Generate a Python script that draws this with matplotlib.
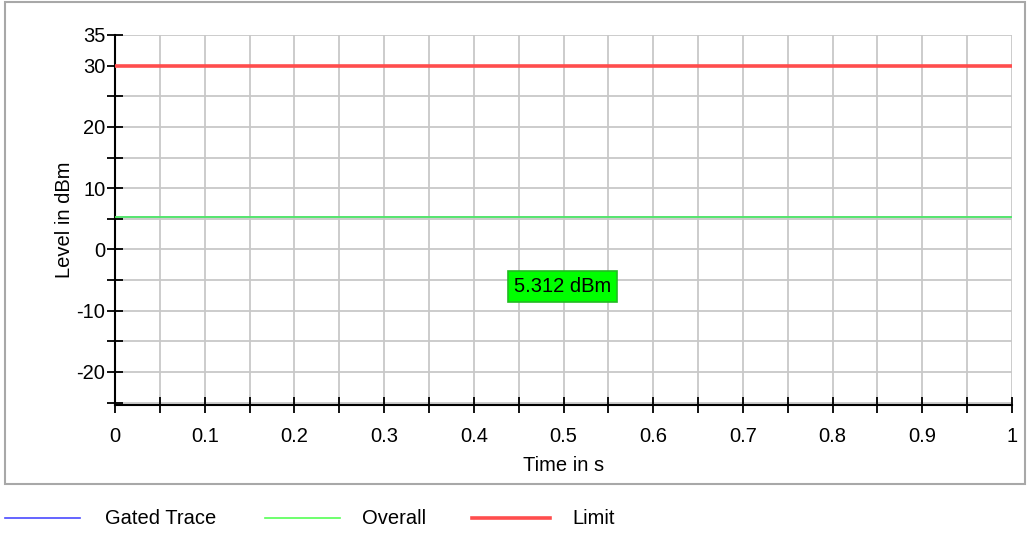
import matplotlib.pyplot as plt
from matplotlib.lines import Line2D
from matplotlib.patches import Rectangle
import numpy as np

plt.rcParams['font.family'] = ['Liberation Sans', 'DejaVu Sans']

# data
time_s = [0.0, 1.0]
gated_trace = [5.312, 5.312]
overall = [5.312, 5.312]
limit = [30.0, 30.0]
marker_label = '5.312 dBm'
marker_pos = (0.499, -6.0)

series_names = ['Gated Trace', 'Overall', 'Limit']
series_colors = ['#4a4aff', '#55ff55', '#ff4d4d']
series_widths = [1.2, 1.2, 2.6]

x_major = np.round(np.arange(0, 1.01, 0.1), 1)
x_labels = ['0', '0.1', '0.2', '0.3', '0.4', '0.5', '0.6', '0.7', '0.8', '0.9', '1']
y_major = [-20, -10, 0, 10, 20, 30, 35]
y_labels = ['-20', '-10', '0', '10', '20', '30', '35']
y_minor = [-25, -15, -5, 5, 15, 25]

fs = 14.5

# figure
fig = plt.figure(figsize=(10.3, 5.33), dpi=100)
ax = fig.add_axes([115 / 1030, 1 - 405 / 533, 897 / 1030, 370 / 533])

# outer frame
fig.add_artist(Rectangle((5 / 1030, 1 - 484 / 533), 1020 / 1030, 482 / 533,
                         transform=fig.transFigure, fill=False,
                         edgecolor='#a8a8a8', linewidth=1.5))

# grid
for xv in np.arange(0, 1.001, 0.05):
    ax.axvline(xv, color='#c8c8c8', linewidth=1.3, zorder=0)
for yv in range(-25, 36, 5):
    ax.axhline(yv, color='#c8c8c8', linewidth=1.3, zorder=0)

# traces
ax.plot(time_s, gated_trace, color=series_colors[0], linewidth=series_widths[0], zorder=2)
ax.plot(time_s, overall, color=series_colors[1], linewidth=series_widths[1], zorder=3)
ax.plot(time_s, limit, color=series_colors[2], linewidth=series_widths[2], zorder=3,
        solid_capstyle='butt')

# marker label
ax.text(marker_pos[0], marker_pos[1], marker_label, ha='center', va='center',
        fontsize=fs, color='black', zorder=5,
        bbox=dict(boxstyle='square,pad=0.3', facecolor='#00ff00', edgecolor='#22bb22',
                  linewidth=1.2))

# limits
ax.set_xlim(0, 1)
ax.set_ylim(-25.4, 35)

# ticks
ax.set_xticks(x_major)
ax.set_xticklabels(x_labels)
ax.set_xticks(np.arange(0.05, 1, 0.1), minor=True)
ax.set_yticks(y_major)
ax.set_yticklabels(y_labels)
ax.set_yticks(y_minor, minor=True)
ax.tick_params(axis='both', which='both', direction='inout', length=12, width=1.3,
               labelsize=fs, color='black')
ax.tick_params(axis='x', pad=10)
ax.tick_params(axis='y', pad=1)

# spines
ax.spines['right'].set_color('none')
ax.spines['top'].set_color('none')
ax.spines['left'].set_linewidth(1.5)
ax.spines['bottom'].set_linewidth(1.5)

# labels
ax.set_xlabel('Time in s', fontsize=fs, labelpad=7)
ax.set_ylabel('Level in dBm', fontsize=fs, labelpad=1.5)

# legend below frame
leg_y = 1 - 518 / 533
leg_x = [(5, 80, 105), (265, 340, 362), (472, 550, 572)]
for (x0, x1, xt), name, col, lw in zip(leg_x, series_names, series_colors, series_widths):
    fig.add_artist(Line2D([x0 / 1030, x1 / 1030], [leg_y, leg_y], transform=fig.transFigure,
                          color=col, linewidth=lw))
    fig.text(xt / 1030, leg_y, name, ha='left', va='center', fontsize=fs)

plt.savefig('out.png', dpi=100)
